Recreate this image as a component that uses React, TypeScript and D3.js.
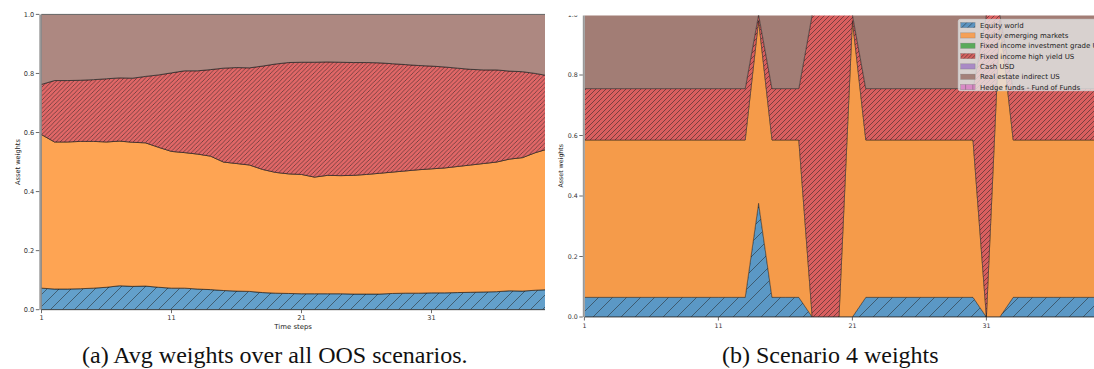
import React from "react";
import * as d3 from "d3";

const W = 1094;
const H = 369;

const ASSETS = [
  "Equity world",
  "Equity emerging markets",
  "Fixed income investment grade US",
  "Fixed income high yield US",
  "Cash USD",
  "Real estate indirect US",
  "Hedge funds - Fund of Funds",
];
const LEGEND_COLORS = ["#5b93c0", "#f5a057", "#5aaa5a", "#d5615f", "#a98ac5", "#a4817a", "#d98bc6"];
const LEGEND_HATCH = ["blue", null, null, "red", null, null, "pink"];

const timeSteps = d3.range(1, 41);
const xTicks = [1, 11, 21, 31];
const yTicks = [0, 0.2, 0.4, 0.6, 0.8, 1.0];

// (a) average weights over all OOS scenarios
const avgEquityWorld = [
  0.073, 0.07, 0.07, 0.071, 0.073, 0.076, 0.081, 0.079, 0.08, 0.076,
  0.073, 0.073, 0.07, 0.068, 0.065, 0.063, 0.062, 0.058, 0.056, 0.055,
  0.054, 0.054, 0.054, 0.054, 0.053, 0.053, 0.053, 0.055, 0.056, 0.056,
  0.057, 0.057, 0.058, 0.059, 0.06, 0.061, 0.064, 0.063, 0.066, 0.068,
];
const avgEquityEM = [
  0.52, 0.498, 0.498, 0.499, 0.497, 0.492, 0.49, 0.488, 0.485, 0.474,
  0.463, 0.459, 0.457, 0.452, 0.435, 0.432, 0.428, 0.417, 0.409, 0.405,
  0.404, 0.395, 0.401, 0.4, 0.402, 0.405, 0.409, 0.411, 0.414, 0.418,
  0.42, 0.423, 0.427, 0.431, 0.435, 0.439, 0.446, 0.452, 0.466, 0.477,
];
const avgHighYield = [
  0.17, 0.208, 0.208, 0.207, 0.209, 0.214, 0.214, 0.217, 0.225, 0.245,
  0.266, 0.277, 0.282, 0.293, 0.318, 0.325, 0.329, 0.35, 0.367, 0.377,
  0.38, 0.389, 0.384, 0.384, 0.382, 0.379, 0.374, 0.367, 0.36, 0.353,
  0.348, 0.342, 0.333, 0.324, 0.317, 0.312, 0.298, 0.291, 0.268, 0.247,
];
const avgRealEstate = [
  0.237, 0.224, 0.224, 0.223, 0.221, 0.218, 0.215, 0.216, 0.21, 0.205,
  0.198, 0.191, 0.191, 0.187, 0.182, 0.18, 0.181, 0.175, 0.168, 0.163,
  0.162, 0.162, 0.161, 0.162, 0.163, 0.163, 0.164, 0.167, 0.17, 0.173,
  0.175, 0.178, 0.182, 0.186, 0.188, 0.188, 0.192, 0.194, 0.2, 0.208,
];

// (b) scenario 4 weights
const sc4EquityWorld = [
  0.065, 0.065, 0.065, 0.065, 0.065, 0.065, 0.065, 0.065, 0.065, 0.065,
  0.065, 0.065, 0.065, 0.376, 0.065, 0.065, 0.065, 0, 0, 0,
  0, 0.065, 0.065, 0.065, 0.065, 0.065, 0.065, 0.065, 0.065, 0.065,
  0, 0, 0.065, 0.065, 0.065, 0.065, 0.065, 0.065, 0.065, 0.065,
];
const sc4EquityEM = [
  0.52, 0.52, 0.52, 0.52, 0.52, 0.52, 0.52, 0.52, 0.52, 0.52,
  0.52, 0.52, 0.52, 0.604, 0.52, 0.52, 0.52, 0, 0, 0,
  0.98, 0.52, 0.52, 0.52, 0.52, 0.52, 0.52, 0.52, 0.52, 0.52,
  0, 0.98, 0.52, 0.52, 0.52, 0.52, 0.52, 0.52, 0.52, 0.52,
];
const sc4HighYield = [
  0.17, 0.17, 0.17, 0.17, 0.17, 0.17, 0.17, 0.17, 0.17, 0.17,
  0.17, 0.17, 0.17, 0.02, 0.17, 0.17, 0.17, 1, 1, 1,
  0.02, 0.17, 0.17, 0.17, 0.17, 0.17, 0.17, 0.17, 0.17, 0.17,
  1, 0.02, 0.17, 0.17, 0.17, 0.17, 0.17, 0.17, 0.17, 0.17,
];
const sc4RealEstate = [
  0.245, 0.245, 0.245, 0.245, 0.245, 0.245, 0.245, 0.245, 0.245, 0.245,
  0.245, 0.245, 0.245, 0, 0.245, 0.245, 0.245, 0, 0, 0,
  0, 0.245, 0.245, 0.245, 0.245, 0.245, 0.245, 0.245, 0.245, 0.245,
  0, 0, 0.245, 0.245, 0.245, 0.245, 0.245, 0.245, 0.245, 0.245,
];

const KEYS = ["ew", "em", "hy", "re"];

function rows(ew, em, hy, re) {
  return timeSteps.map((t, i) => ({ t, ew: ew[i], em: em[i], hy: hy[i], re: re[i] }));
}

const TICK_FONT = "DejaVu Sans, sans-serif";
const CAPTION_FONT = "Liberation Serif, Times New Roman, serif";

function hatchPattern(id, color, size, stroke = "#222", op = 0.75) {
  const s = size;
  return (
    <pattern id={id} width={s} height={s} patternUnits="userSpaceOnUse">
      <rect width={s} height={s} fill={color} />
      <path
        d={`M0,${s} L${s},0 M${-s / 4},${s / 4} L${s / 4},${-s / 4} M${(3 * s) / 4},${(5 * s) / 4} L${(5 * s) / 4},${(3 * s) / 4}`}
        stroke={stroke}
        strokeOpacity={op}
        strokeWidth={0.7}
      />
    </pattern>
  );
}

function Panel({ id, data, xRange, yRange, clip, colors, hatch, edgeOp, labelX, tickSize, showXLabel }) {
  const x = d3.scaleLinear().domain([1, 40]).range(xRange);
  const y = d3.scaleLinear().domain([0, 1]).range(yRange);
  const stack = d3.stack().keys(KEYS)(data);
  const area = d3
    .area()
    .x((d) => x(d.data.t))
    .y0((d) => y(d[0]))
    .y1((d) => y(d[1]));
  const fills = [`url(#${id}-blue)`, colors.orange, `url(#${id}-red)`, colors.brown];
  const [cx0, cx1] = clip;
  return (
    <g>
      <defs>
        {hatchPattern(`${id}-blue`, colors.blue, hatch[0])}
        {hatchPattern(`${id}-red`, colors.red, hatch[1])}
        <clipPath id={`${id}-clip`}>
          <rect x={cx0} y={yRange[1]} width={cx1 - cx0} height={yRange[0] - yRange[1]} />
        </clipPath>
      </defs>
      <g clipPath={`url(#${id}-clip)`}>
        {stack.map((s, i) => (
          <path
            key={s.key}
            d={area(s)}
            fill={fills[i]}
            stroke="#1a1a1a"
            strokeOpacity={edgeOp}
            strokeWidth={0.8}
          />
        ))}
      </g>
      {/* spines */}
      <line x1={cx0 - 1} x2={cx0 - 1} y1={yRange[1]} y2={yRange[0]} stroke="#999" strokeWidth={2} />
      <line x1={cx0} x2={cx1} y1={yRange[1]} y2={yRange[1]} stroke="#555" strokeWidth={0.8} />
      <line x1={cx0} x2={cx1} y1={yRange[0]} y2={yRange[0]} stroke="#333" strokeWidth={0.8} />
      {/* y axis */}
      {yTicks.map((v) => (
        <g key={v} transform={`translate(${cx0 - 2},${y(v)})`}>
          <line x1={-3.5} x2={0} stroke="#444" strokeWidth={0.8} />
          <text
            x={-5}
            dy="0.35em"
            textAnchor="end"
            fontFamily={TICK_FONT}
            fontSize={tickSize}
            fill="#333"
          >
            {v.toFixed(1)}
          </text>
        </g>
      ))}
      {/* x axis */}
      {xTicks.map((t) => (
        <g key={t} transform={`translate(${x(t)},${yRange[0]})`}>
          <line y1={0} y2={3.5} stroke="#444" strokeWidth={0.8} />
          <text y={10.5} textAnchor="middle" fontFamily={TICK_FONT} fontSize={tickSize} fill="#333">
            {t}
          </text>
        </g>
      ))}
      <text
        transform={`translate(${labelX},${(yRange[0] + yRange[1]) / 2}) rotate(-90)`}
        textAnchor="middle"
        dy="0.35em"
        fontFamily={TICK_FONT}
        fontSize={tickSize}
        fill="#222"
      >
        Asset weights
      </text>
      {showXLabel && (
        <text
          x={(cx0 + cx1) / 2}
          y={yRange[0] + 19}
          textAnchor="middle"
          fontFamily={TICK_FONT}
          fontSize={tickSize + 0.3}
          fill="#222"
        >
          Time steps
        </text>
      )}
    </g>
  );
}

function Legend({ x0, y0 }) {
  const rowH = 10.33;
  return (
    <g transform={`translate(${x0},${y0})`}>
      <defs>
        {hatchPattern("lg-blue", LEGEND_COLORS[0], 6)}
        {hatchPattern("lg-red", LEGEND_COLORS[3], 4)}
        <pattern id="lg-pink" width={7.2} height={7} patternUnits="userSpaceOnUse" x={2.4}>
          <rect width={7.2} height={7} fill={LEGEND_COLORS[6]} />
          <line x1={5} x2={5} y1={0} y2={7} stroke="#444" strokeOpacity={0.6} strokeWidth={0.7} />
        </pattern>
      </defs>
      <rect width={200} height={71.4} rx={2} fill="#e6e6e6" fillOpacity={0.8} stroke="#cfcfcf" strokeWidth={0.8} />
      {ASSETS.map((name, i) => {
        const cy = 5.8 + i * rowH;
        const h = LEGEND_HATCH[i];
        return (
          <g key={name} transform={`translate(0,${cy})`}>
            <rect
              x={2.4}
              y={-2.6}
              width={14.4}
              height={5.2}
              fill={h ? `url(#lg-${h})` : LEGEND_COLORS[i]}
              stroke="#666"
              strokeOpacity={0.5}
              strokeWidth={0.5}
            />
            <text x={21.7} dy="0.35em" fontFamily={TICK_FONT} fontSize={7} fill="#222">
              {name}
            </text>
          </g>
        );
      })}
    </g>
  );
}

export default function App() {
  const left = rows(avgEquityWorld, avgEquityEM, avgHighYield, avgRealEstate);
  const right = rows(sc4EquityWorld, sc4EquityEM, sc4HighYield, sc4RealEstate);
  return (
    <svg width={W} height={H} style={{ position: "absolute", left: 0, top: 0, background: "#fff" }}>
      <rect width={W} height={H} fill="#fff" />
      <Panel
        id="avg"
        data={left}
        xRange={[41.5, 548.5]}
        yRange={[309.7, 14.4]}
        clip={[41.3, 545]}
        colors={{ blue: "#63a0cb", orange: "#fea453", red: "#e16767", brown: "#ad8881" }}
        hatch={[12, 4.3]}
        edgeOp={0.8}
        labelX={17.5}
        tickSize={6.6}
        showXLabel={true}
      />
      <defs>
        <clipPath id="right-crop">
          <rect x={550} y={15.5} width={W - 550} height={H - 15.5} />
        </clipPath>
      </defs>
      <g clipPath="url(#right-crop)">
        <Panel
          id="sc4"
          data={right}
          xRange={[584.4, 1107]}
          yRange={[317, 14.5]}
          clip={[584.8, W]}
          colors={{ blue: "#5b98c5", orange: "#f59b4a", red: "#d95f5f", brown: "#a27d75" }}
          hatch={[14, 5]}
          edgeOp={0.55}
          labelX={560.5}
          tickSize={6.3}
          showXLabel={false}
        />
        <Legend x0={958.3} y0={19.3} />
      </g>
      <text x={82} y={363} fontFamily={CAPTION_FONT} fontSize={24} fill="#111">
        (a) Avg weights over all OOS scenarios.
      </text>
      <text x={722} y={363} fontFamily={CAPTION_FONT} fontSize={24} fill="#111">
        (b) Scenario 4 weights
      </text>
    </svg>
  );
}
